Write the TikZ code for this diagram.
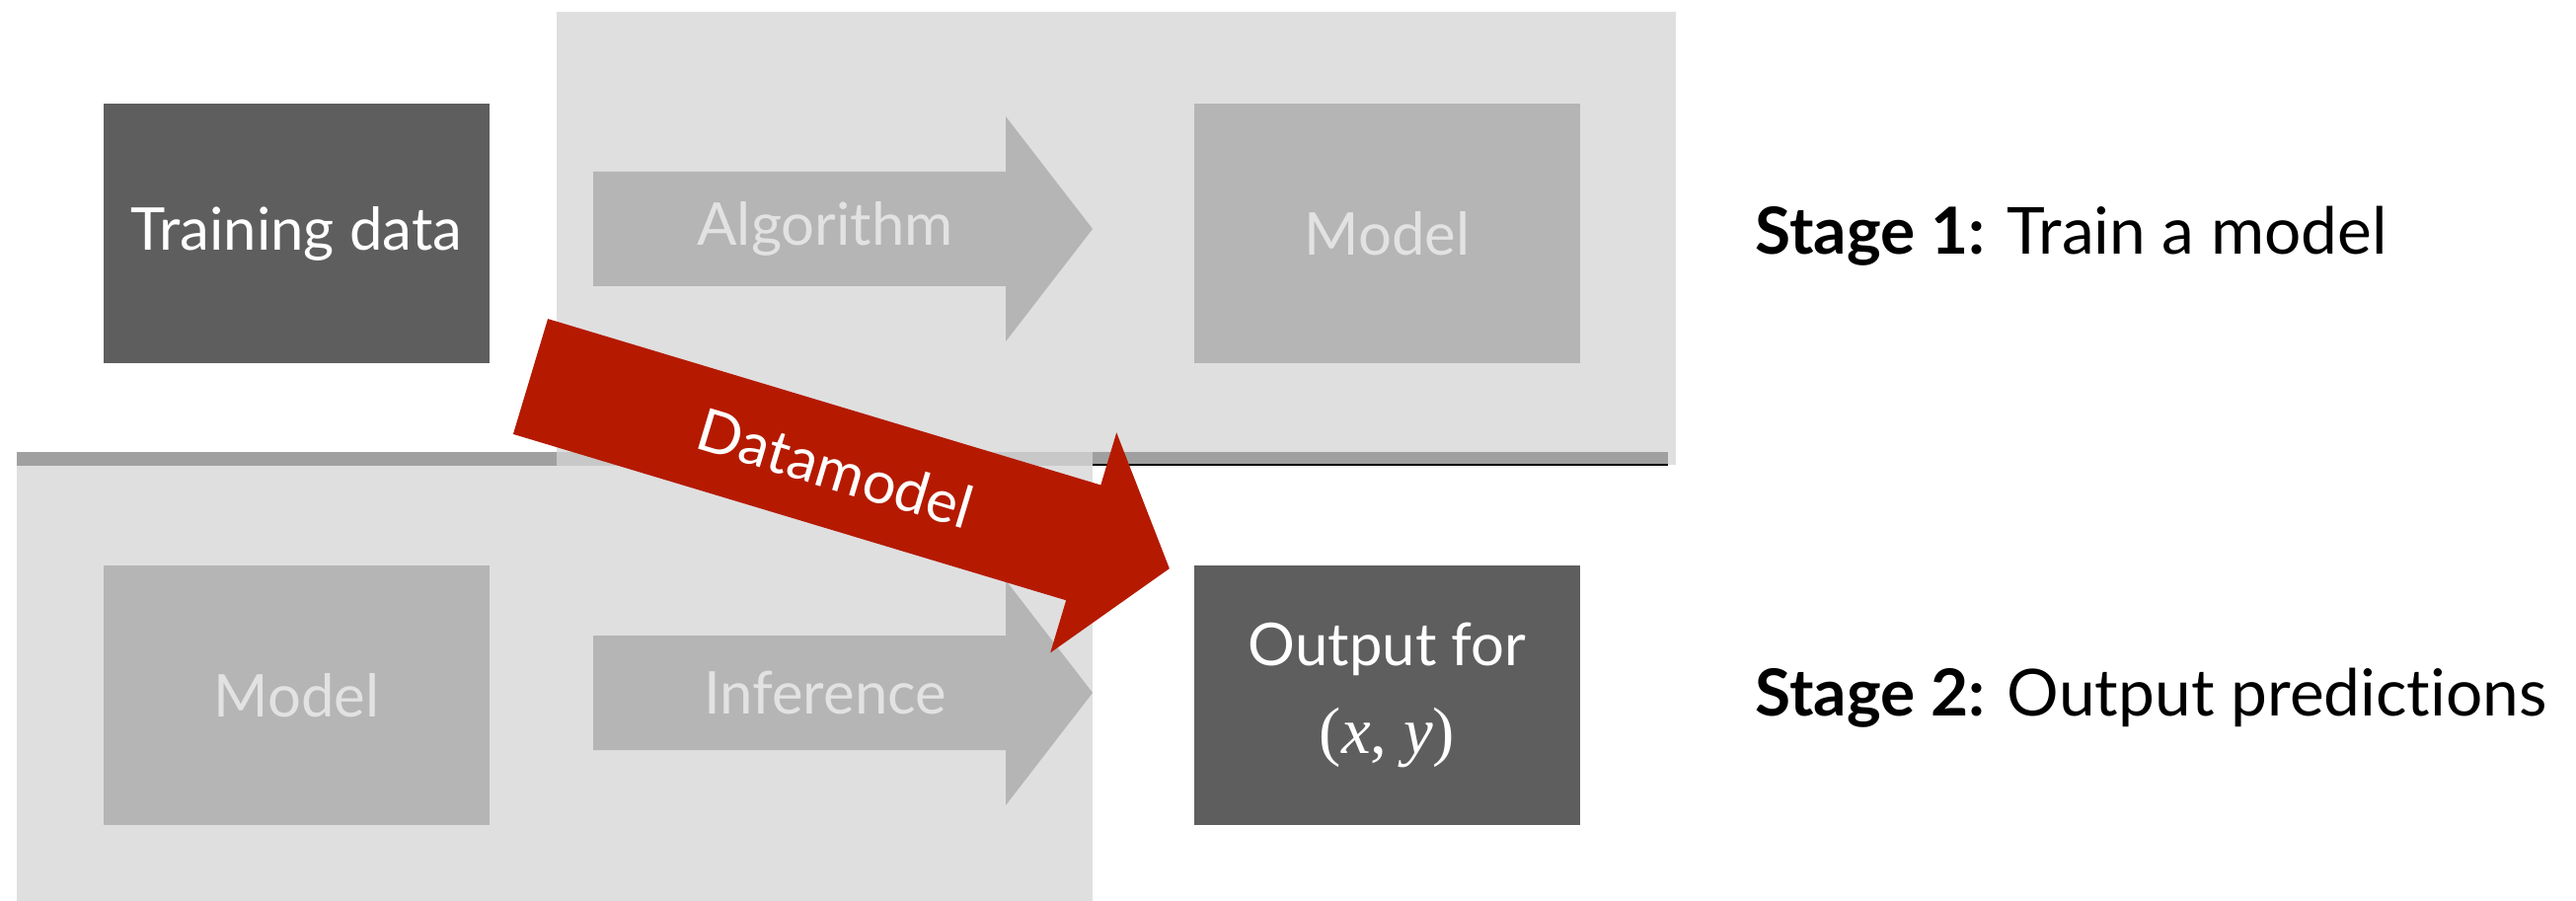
\documentclass[tikz,border=0pt]{standalone}
\usepackage{fontspec}
\setmainfont{Lato}[Ligatures=NoCommon]
\newfontfamily\mathserif{Liberation Serif}
\usetikzlibrary{positioning}
\definecolor{boxdark}{HTML}{5E5E5E}
\definecolor{boxmid}{HTML}{B5B5B5}
\definecolor{panel}{HTML}{DFDFDF}
\definecolor{panelbar}{HTML}{A0A0A0}
\definecolor{panelmix}{HTML}{C8C8C8}
\definecolor{faint}{HTML}{E2E2E2}
\definecolor{dmred}{HTML}{B51A00}

\begin{document}
\begin{tikzpicture}[
  x=0.01cm, y=-0.01cm,
  every node/.style={font=\fontsize{17}{21}\selectfont},
  blk/.style={rectangle, inner sep=0pt, minimum width=3.91cm, minimum height=2.63cm},
  darkblk/.style={blk, fill=boxdark, text=white},
  fadedblk/.style={blk, fill=boxmid, text=faint},
  stagelbl/.style={anchor=base west, inner sep=0pt, font=\fontsize{18.7}{22}\selectfont}
]
  \useasboundingbox (0,0) rectangle (2610,913);

  % the two stage panels
  \fill[panel] (564,12) rectangle (1698,471);
  \fill[panel] (17,458) rectangle (1107,913);
  \fill[panelbar] (17,458) rectangle (564,472);
  \fill[panelmix] (564,458) rectangle (1107,472);
  \fill[panelbar] (1107,458) rectangle (1690,471);
  \draw[line width=0.6pt] (1107,471) -- (1690,471);

  \node[darkblk] (train) at (300.5,236.5) {Training data};
  \node[fadedblk] (model1) at (1405.5,236.5) {Model};
  \node[fadedblk] (model2) at (300.5,704.5) {Model};
  \node[darkblk, align=center, font=\fontsize{17}{25.3}\selectfont]
    (out) at (1405.5,704.5)
    {Output for\\{\mathserif\fontsize{19}{25.3}\selectfont(\textit{x}, \textit{y})}};

  % grey block arrows
  \foreach \c/\txt/\nm in {232/Algorithm/algo, 702/Inference/infer} {
    \fill[boxmid] (601,\c-58) -- (1019,\c-58) -- (1019,\c-114) -- (1107,\c)
      -- (1019,\c+114) -- (1019,\c+58) -- (601,\c+58) -- cycle;
    \node[text=faint] (\nm) at (836,\c) {\txt};
  }

  % red datamodel arrow
  \begin{scope}[shift={(537.5,381.5)}, rotate=-16.73]
    \fill[dmred] (0,-61) -- (585,-61) -- (585,-116.5) -- (676,0)
      -- (585,116.5) -- (585,61) -- (0,61) -- cycle;
    \node[text=white, rotate=-16.73] (dm) at (323,0) {Datamodel};
  \end{scope}

  \node[stagelbl] (stage1) at (1778,258) {\textbf{Stage 1:} Train a model};
  \node[stagelbl] (stage2) at (1778,725) {\textbf{Stage 2:} Output predictions};
\end{tikzpicture}
\end{document}
